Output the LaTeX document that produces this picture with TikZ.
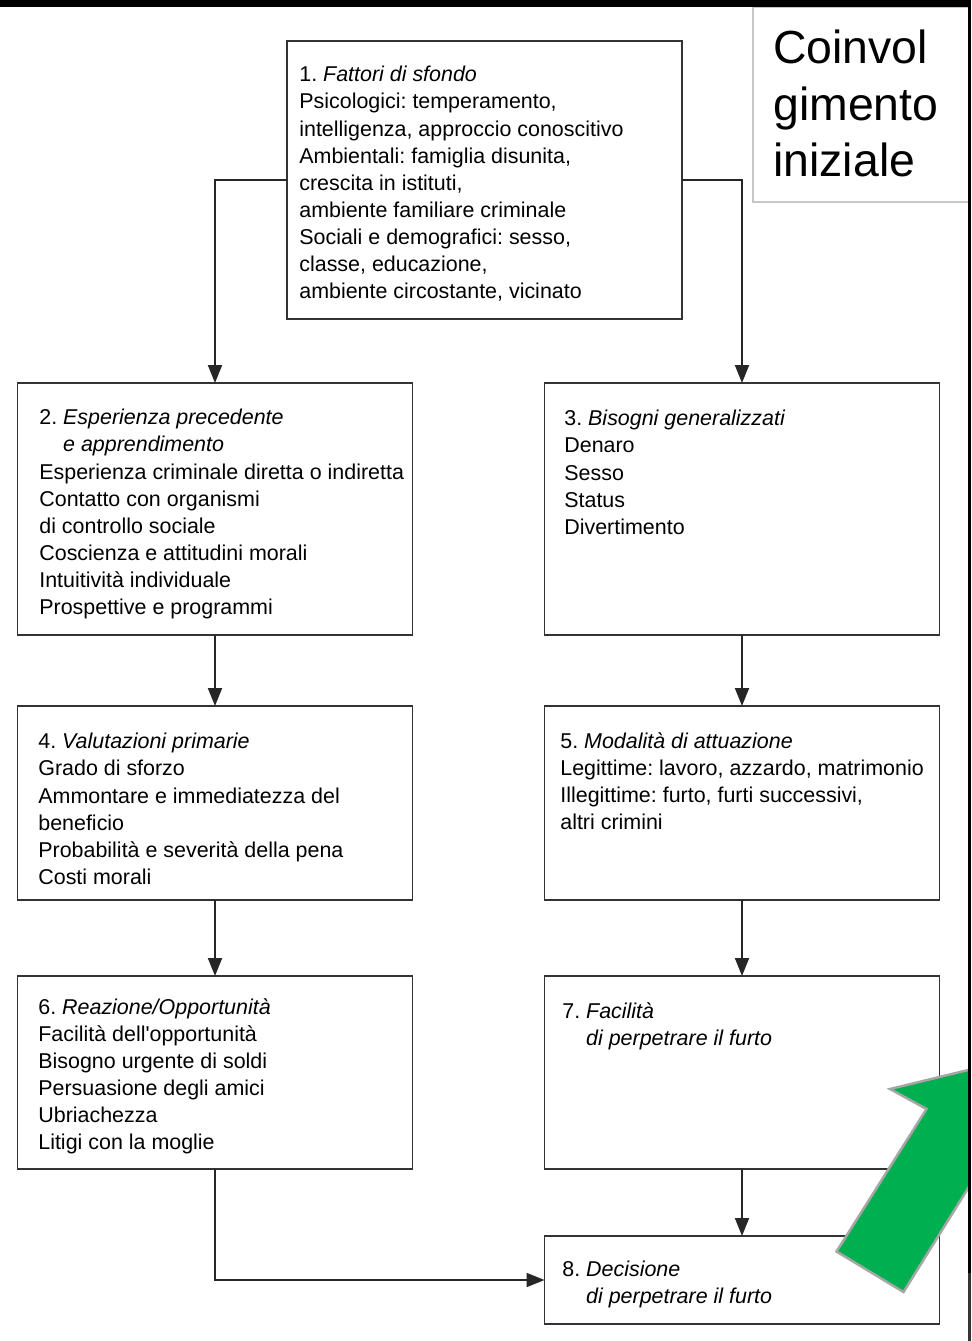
\documentclass[tikz,border=0pt]{standalone}
\usepackage{fontspec}
\setmainfont{Liberation Sans}
\usetikzlibrary{arrows.meta,positioning}

\definecolor{arrowgreen}{HTML}{00B050}
\frenchspacing

\begin{document}
\begin{tikzpicture}[
			block/.style={rectangle, draw=black!80, line width=1.1pt, outer sep=0pt, minimum width=7.9cm},
			blocktext/.style={align=left, inner sep=0pt, font=\fontsize{12.2}{15.4}\selectfont},
			flow/.style={draw=black!85, line width=1.1pt, -{Triangle[length=0.36cm,width=0.28cm]}},
			tag/.style={rectangle, draw=black!22, line width=1.2pt, fill=white, outer sep=0pt, minimum width=4.32cm, minimum height=3.9cm}
		]
		\useasboundingbox (0,0) rectangle (19.42,-26.82);

		% Fattori di sfondo
		\node[block, minimum height=5.56cm] (fat) at (9.69,-3.6) {};
		\node[blocktext, below right=0.5cm and 0.24cm of fat.north west] (fatT) {1. \textit{Fattori di sfondo}\\Psicologici: temperamento,\\intelligenza, approccio conoscitivo\\Ambientali: famiglia disunita,\\crescita in istituti,\\ambiente familiare criminale\\Sociali e demografici: sesso,\\classe, educazione,\\ambiente circostante, vicinato};

		% Left column
		\node[block, minimum height=5.04cm] (esp) at (4.3,-10.18) {};
		\node[blocktext, below right=0.52cm and 0.43cm of esp.north west] (espT) {2. \textit{Esperienza precedente}\\\phantom{2. }\textit{e apprendimento}\\Esperienza criminale diretta o indiretta\\Contatto con organismi\\di controllo sociale\\Coscienza e attitudini morali\\Intuitività individuale\\Prospettive e programmi};
		\node[block, minimum height=3.88cm, below=1.42cm of esp] (val) {};
		\node[blocktext, below right=0.54cm and 0.41cm of val.north west] (valT) {4. \textit{Valutazioni primarie}\\Grado di sforzo\\Ammontare e immediatezza del\\beneficio\\Probabilità e severità della pena\\Costi morali};
		\node[block, minimum height=3.86cm, below=1.52cm of val] (rea) {};
		\node[blocktext, below right=0.44cm and 0.41cm of rea.north west] (reaT) {6. \textit{Reazione/Opportunità}\\Facilità dell\textquotesingle opportunità\\Bisogno urgente di soldi\\Persuasione degli amici\\Ubriachezza\\Litigi con la moglie};

		% Right column
		\node[block, minimum height=5.04cm, right=2.64cm of esp] (bis) {};
		\node[blocktext, below right=0.54cm and 0.39cm of bis.north west] (bisT) {3. \textit{Bisogni generalizzati}\\Denaro\\Sesso\\Status\\Divertimento};
		\node[block, minimum height=3.88cm, below=1.42cm of bis] (mod) {};
		\node[blocktext, below right=0.52cm and 0.31cm of mod.north west] (modT) {5. \textit{Modalità di attuazione}\\Legittime: lavoro, azzardo, matrimonio\\Illegittime: furto, furti successivi,\\altri crimini};
		\node[block, minimum height=3.86cm, below=1.52cm of mod] (fac) {};
		\node[blocktext, below right=0.52cm and 0.35cm of fac.north west] (facT) {7. \textit{Facilità}\\\phantom{7. }\textit{di perpetrare il furto}};
		\node[block, minimum height=1.76cm, below=1.34cm of fac] (dec) {};
		\node[blocktext, below right=0.5cm and 0.35cm of dec.north west] (decT) {8. \textit{Decisione}\\\phantom{8. }\textit{di perpetrare il furto}};

		% Connectors
		\draw[flow] (fat.west) -| (esp.north);
		\draw[flow] (fat.east) -| (bis.north);
		\draw[flow] (esp.south) -- (val.north);
		\draw[flow] (val.south) -- (rea.north);
		\draw[flow] (bis.south) -- (mod.north);
		\draw[flow] (mod.south) -- (fac.north);
		\draw[flow] (fac.south) -- (dec.north);
		\draw[flow] (rea.south) |- (dec.west);

		% Note and green arrow
		\node[tag, anchor=north west] (coin) at (15.06,-0.14) {};
		\node[align=left, inner sep=0pt, font=\fontsize{26.4}{32}\selectfont, below right=0.46cm and 0.4cm of coin.north west] (coinT) {Coinvol\\gimento\\iniziale};
		\begin{scope}
			\clip (0,0) rectangle (19.36,-26.82);
			\draw[fill=arrowgreen, draw=black!35, line width=1.4pt, line join=miter]
				(16.73,-25.03) -- (18.53,-22.18) -- (17.80,-21.78) -- (20.02,-21.24)
				-- (20.53,-23.47) -- (19.85,-22.98) -- (18.07,-25.84) -- cycle;
		\end{scope}

		% Frame of the scan
		\fill[black] (0,0) rectangle (19.42,-0.14);
		\fill[black] (19.36,0) rectangle (19.42,-25.46);
		\fill[black!80] (19.36,-25.46) rectangle (19.42,-26.82);
	\end{tikzpicture}
\end{document}
